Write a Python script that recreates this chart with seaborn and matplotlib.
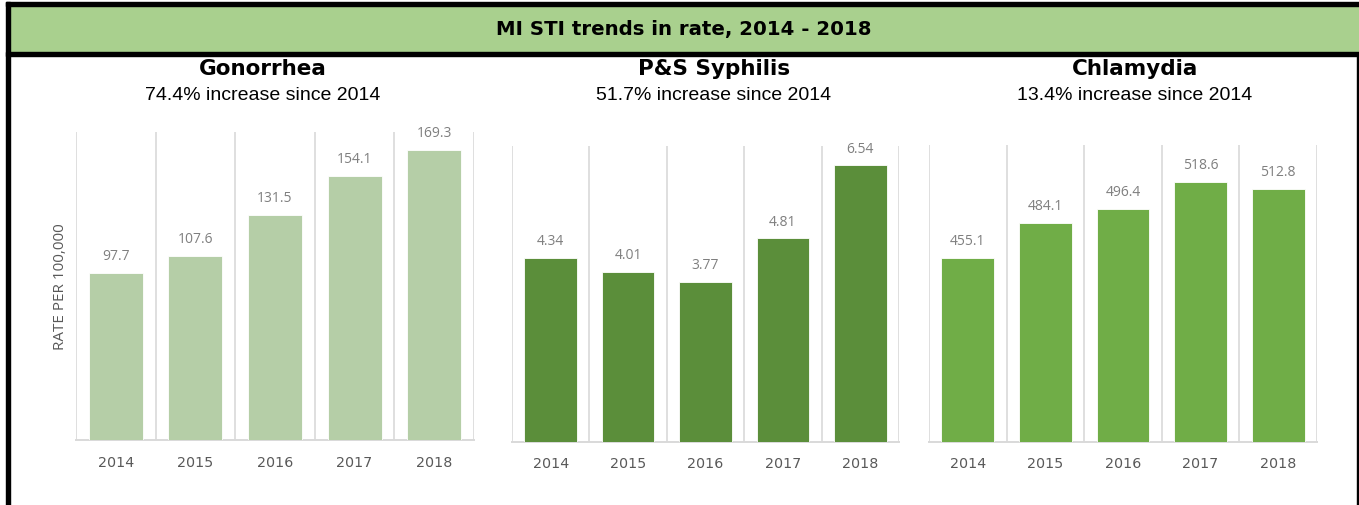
import matplotlib
matplotlib.use("Agg")
import matplotlib.pyplot as plt
import seaborn as sns
import pandas as pd
from matplotlib.patches import Rectangle

# 数据
years = ["2014", "2015", "2016", "2017", "2018"]
gonorrhea = [97.7, 107.6, 131.5, 154.1, 169.3]
syphilis = [4.34, 4.01, 3.77, 4.81, 6.54]
chlamydia = [455.1, 484.1, 496.4, 518.6, 512.8]

titles = ["Gonorrhea", "P&S Syphilis", "Chlamydia"]
subtitles = ["74.4% increase since 2014", "51.7% increase since 2014", "13.4% increase since 2014"]
header = "MI STI trends in rate, 2014 - 2018"

sns.set_style("white")
plt.rcParams['font.family'] = ['DejaVu Sans']

W, H = 1359, 506
fig = plt.figure(figsize=(W / 100, H / 100), dpi=100)


def fx(px):
    return px / W


def fy(py):
    return 1 - py / H


# 边框和标题栏
black = "#000000"
fig.patches.append(Rectangle((fx(10), fy(53)), fx(1359 - 10), (53 - 7) / H,
                             transform=fig.transFigure, color="#A9D08E", zorder=0))
fig.patches.append(Rectangle((fx(6), fy(7)), fx(1359 - 6), 4 / H,
                             transform=fig.transFigure, color=black, zorder=1))
fig.patches.append(Rectangle((fx(6), fy(57)), fx(1359 - 6), 4 / H,
                             transform=fig.transFigure, color=black, zorder=1))
fig.patches.append(Rectangle((fx(6), 0), fx(4), fy(3),
                             transform=fig.transFigure, color=black, zorder=1))
fig.patches.append(Rectangle((fx(1357), 0), fx(2), fy(57),
                             transform=fig.transFigure, color=black, zorder=1))

fig.text(fx(684), fy(30), header, ha="center", va="center",
         fontsize=14.2, fontweight="bold", color="black")

# 子图位置 (像素): left, right, top, bottom
boxes = [(76, 474, 133, 441), (512, 899, 147, 442.5), (929, 1317, 146, 442.5)]
series = [gonorrhea, syphilis, chlamydia]
colors = ["#B5CEA7", "#5B8E3A", "#70AD47"]
ylims = [(0, 180), (0, 7), (300, 550)]
fmts = ["{:.1f}", "{:.2f}", "{:.1f}"]
title_x = [263, 714, 1135]

grid_c = "#D9D9D9"

for i in range(3):
    l, r, t, b = boxes[i]
    ax = fig.add_axes([fx(l), fy(b), (r - l) / W, (b - t) / H])
    df = pd.DataFrame({"year": years, "rate": series[i]})
    sns.barplot(data=df, x="year", y="rate", color=colors[i], width=0.68,
                saturation=1, edgecolor="white", linewidth=0.6, ax=ax, zorder=3)
    ax.set_xlim(-0.5, 4.5)
    ax.set_ylim(*ylims[i])
    for xv in [-0.5, 0.5, 1.5, 2.5, 3.5, 4.5]:
        ax.axvline(xv, color=grid_c, lw=1.2, zorder=1)
    for sp in ["top", "right", "left"]:
        ax.spines[sp].set_visible(False)
    ax.spines["bottom"].set_color(grid_c)
    ax.spines["bottom"].set_linewidth(1.4)
    ax.set_yticks([])
    ax.tick_params(axis="x", length=0, pad=10.5, labelsize=10.3, colors="#595959")
    ax.set_xlabel("")
    ax.set_ylabel("")

    # 数据标签
    for j, v in enumerate(series[i]):
        ax.annotate(fmts[i].format(v), (j, v), textcoords="offset points",
                    xytext=(0, 12.5), ha="center", va="center",
                    fontsize=10, color="#7F7F7F", family=["Open Sans", "DejaVu Sans"])

    fig.text(fx(title_x[i]), fy(69), titles[i], ha="center", va="center",
             fontsize=15.5, fontweight="bold", color="black")
    fig.text(fx(title_x[i]), fy(95), subtitles[i], ha="center", va="center",
             fontsize=14, color="black", family=["Liberation Sans", "DejaVu Sans"])

    if i == 0:
        ax.set_ylabel("RATE PER 100,000", fontsize=11, color="#595959",
                      family=["Open Sans", "DejaVu Sans"])
        ax.yaxis.set_label_coords(-0.02, 0.5)

plt.savefig("out.png", dpi=100)
